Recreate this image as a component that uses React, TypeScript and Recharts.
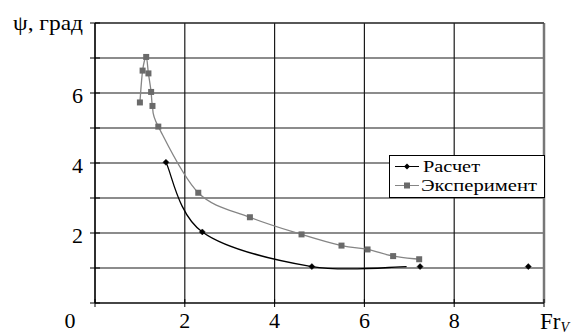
import React from "react";
import {
  ComposedChart,
  Line,
  Scatter,
  XAxis,
  YAxis,
  CartesianGrid,
  ReferenceLine,
} from "recharts";

const calcFr = [1.58, 2.39, 4.83, 6.94];
const calcPsi = [4.02, 2.03, 1.04, 1.04];
const calcMarked = [true, true, true, false];
const calcLoneFr = [7.24, 9.65];
const calcLonePsi = [1.04, 1.04];

const expFr = [1.0, 1.06, 1.14, 1.19, 1.25, 1.28, 1.41, 2.3, 3.45, 4.6, 5.49, 6.07, 6.64, 7.22];
const expPsi = [5.73, 6.64, 7.03, 6.56, 6.03, 5.63, 5.04, 3.15, 2.45, 1.96, 1.64, 1.53, 1.34, 1.25];

const xTicks = [0, 2, 4, 6, 8, 10];
const xTickLabels = ["", "2", "4", "6", "8", ""];
const yTicks = [0, 1, 2, 3, 4, 5, 6, 7, 8];
const yLabeled = [2, 4, 6];

const seriesNames = ["Расчет", "Эксперимент"];
const yTitle = "ψ, град";
const cornerLabel = "0";

const calcData = calcFr.map((fr, i) => ({ fr, psi: calcPsi[i], marked: calcMarked[i] }));
const calcLone = calcLoneFr.map((fr, i) => ({ fr, psi: calcLonePsi[i] }));
const expData = expFr.map((fr, i) => ({ fr, psi: expPsi[i] }));

const FONT = "Liberation Serif, DejaVu Serif, serif";
const EXP_COLOR = "#6a6a6a";
const EXP_LINE = "#858585";

// Spreadsheet-style smoothed line (Catmull-Rom through the points, drawn as cubic Béziers)
class SmoothCurve {
  _ctx: any;
  _pts: number[][] = [];
  constructor(ctx: any) {
    this._ctx = ctx;
  }
  areaStart() {}
  areaEnd() {}
  lineStart() {
    this._pts = [];
  }
  point(x: number, y: number) {
    this._pts.push([+x, +y]);
  }
  lineEnd() {
    const p = this._pts;
    const c = this._ctx;
    if (!p.length) return;
    c.moveTo(p[0][0], p[0][1]);
    for (let i = 0; i < p.length - 1; i++) {
      const p0 = p[i - 1] || p[i];
      const p1 = p[i];
      const p2 = p[i + 1];
      const p3 = p[i + 2] || p[i + 1];
      c.bezierCurveTo(
        p1[0] + (p2[0] - p0[0]) / 6,
        p1[1] + (p2[1] - p0[1]) / 6,
        p2[0] - (p3[0] - p1[0]) / 6,
        p2[1] - (p3[1] - p1[1]) / 6,
        p2[0],
        p2[1]
      );
    }
  }
}
const smoothFactory: any = (ctx: any) => new SmoothCurve(ctx);

const Diamond = (props: any) => {
  const { cx, cy, payload } = props;
  if (cx == null || cy == null) return null;
  if (payload && payload.marked === false) return <g />;
  const r = 3;
  return (
    <path
      d={`M${cx},${cy - r} L${cx + r},${cy} L${cx},${cy + r} L${cx - r},${cy} Z`}
      fill="#000"
      stroke="#000"
      strokeWidth={0.5}
    />
  );
};

const Square = (props: any) => {
  const { cx, cy } = props;
  if (cx == null || cy == null) return null;
  const s = 6;
  return <rect x={cx - s / 2} y={cy - s / 2} width={s} height={s} fill={EXP_COLOR} />;
};

const YTick = (props: any) => {
  const { x, y, payload } = props;
  const v = payload.value;
  return (
    <g>
      <line x1={x - 5} x2={x + 5} y1={y} y2={y} stroke="#000" strokeWidth={1} />
      {yLabeled.includes(v) && (
        <text x={x - 12} y={y} dy={9.5} textAnchor="end" fontSize={22} fontFamily={FONT} fill="#000">
          {v}
        </text>
      )}
    </g>
  );
};

const XTick = (props: any) => {
  const { x, y, payload } = props;
  const idx = xTicks.indexOf(payload.value);
  return (
    <g>
      <line x1={x} x2={x} y1={y - 4} y2={y + 4} stroke="#000" strokeWidth={1} />
      {idx > 0 && idx < xTicks.length - 1 && (
        <text x={x} y={y + 25} textAnchor="middle" fontSize={22} fontFamily={FONT} fill="#000">
          {xTickLabels[idx]}
        </text>
      )}
      {idx === 0 && (
        <text x={x - 25} y={y + 25} textAnchor="middle" fontSize={22} fontFamily={FONT} fill="#000">
          {cornerLabel}
        </text>
      )}
      {idx === xTicks.length - 1 && (
        <text x={x - 4} y={y + 26} textAnchor="start" fontSize={23} fontFamily={FONT} fill="#000">
          Fr
          <tspan fontSize={14} fontStyle="italic" dy={3}>V</tspan>
        </text>
      )}
    </g>
  );
};

const LegendBox = () => (
  <svg
    width={156}
    height={44}
    style={{ position: "absolute", left: 388.5, top: 154.5, overflow: "visible" }}
  >
    <rect x={0.5} y={0.5} width={155} height={42} fill="#fff" stroke="#000" strokeWidth={1} />
    <line x1={6} x2={30} y1={11.5} y2={11.5} stroke="#000" strokeWidth={1} />
    <path d="M18,8.5 L21,11.5 L18,14.5 L15,11.5 Z" fill="#000" />
    <text x={34} y={17} fontSize={16} fontFamily={FONT} fill="#000" textLength={57} lengthAdjust="spacingAndGlyphs">
      {seriesNames[0]}
    </text>
    <line x1={6} x2={30} y1={30.5} y2={30.5} stroke={EXP_LINE} strokeWidth={1} />
    <rect x={15} y={27.5} width={6} height={6} fill={EXP_COLOR} />
    <text x={32} y={36} fontSize={16} fontFamily={FONT} fill="#000" textLength={116} lengthAdjust="spacingAndGlyphs">
      {seriesNames[1]}
    </text>
  </svg>
);

export default function App() {
  return (
    <div style={{ position: "absolute", left: 0, top: 0, width: 571, height: 334, background: "#fff", fontFamily: FONT }}>
      <ComposedChart
        width={571}
        height={334}
        margin={{ top: 23, right: 27, left: 0, bottom: 0 }}
      >
        <CartesianGrid stroke="#1a1a1a" strokeWidth={1.2} />
        <XAxis
          type="number"
          dataKey="fr"
          domain={[0, 10]}
          ticks={xTicks}
          interval={0}
          height={31}
          tickSize={0}
          tickMargin={0}
          axisLine={{ stroke: "#000", strokeWidth: 1.2 }}
          tickLine={false}
          tick={XTick}
          allowDuplicatedCategory={false}
        />
        <YAxis
          type="number"
          dataKey="psi"
          domain={[0, 8]}
          ticks={yTicks}
          interval={0}
          width={95}
          tickSize={0}
          tickMargin={0}
          axisLine={{ stroke: "#000", strokeWidth: 1.2 }}
          tickLine={false}
          tick={YTick}
        />
        <ReferenceLine x={10} stroke="#777" strokeWidth={2.5} />
        <ReferenceLine y={8} stroke="#222" strokeWidth={1.2} />
        <Line
          data={expData}
          dataKey="psi"
          type={smoothFactory}
          stroke={EXP_LINE}
          strokeWidth={1.3}
          dot={Square}
          activeDot={false}
          isAnimationActive={false}
          legendType="none"
        />
        <Line
          data={calcData}
          dataKey="psi"
          type={smoothFactory}
          stroke="#000"
          strokeWidth={1.3}
          dot={Diamond}
          activeDot={false}
          isAnimationActive={false}
          legendType="none"
        />
        <Scatter
          data={calcLone}
          dataKey="psi"
          shape={Diamond}
          isAnimationActive={false}
          legendType="none"
        />
        <text
          x={13}
          y={30}
          fontSize={22}
          fontFamily={FONT}
          fill="#000"
          textLength={70}
          lengthAdjust="spacingAndGlyphs"
        >
          {yTitle}
        </text>
      </ComposedChart>
      <LegendBox />
    </div>
  );
}
